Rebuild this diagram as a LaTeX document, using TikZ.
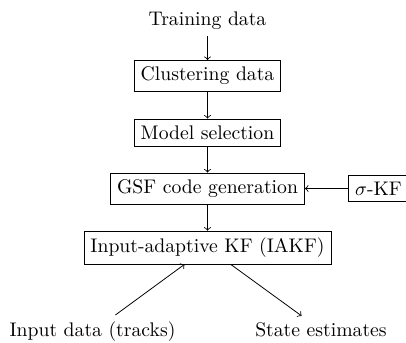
\documentclass[tikz,border=0pt]{standalone}
\begin{document}
\begin{tikzpicture}[x=0.508pt,y=-0.508pt,>=to,
  box/.style={draw},
  label/.style={anchor=base}]
\useasboundingbox (0,0) rectangle (406,342);
\node[label] (train) at (207.5,25) {Training data};
\node[box] (clust) at (207.5,76) {Clustering data};
\node[box] (model) at (207.5,132.5) {Model selection};
\node[box] (gsf) at (207.5,188.5) {GSF code generation};
\node[box] (skf) at (378.5,188.5) {$\sigma$-KF};
\node[box] (iakf) at (207.5,247.5) {Input-adaptive KF (IAKF)};
\node[label] (inp) at (92.5,336.7) {Input data (tracks)};
\node[label] (st) at (321,336.7) {State estimates};
\draw[->] (train) -- (clust);
\draw[->] (clust) -- (model);
\draw[->] (model) -- (gsf);
\draw[->] (gsf) -- (iakf);
\draw[->] (skf) -- (gsf);
\draw[->] (inp) -- (iakf);
\draw[->] (iakf) -- (st);
\end{tikzpicture}
\end{document}
